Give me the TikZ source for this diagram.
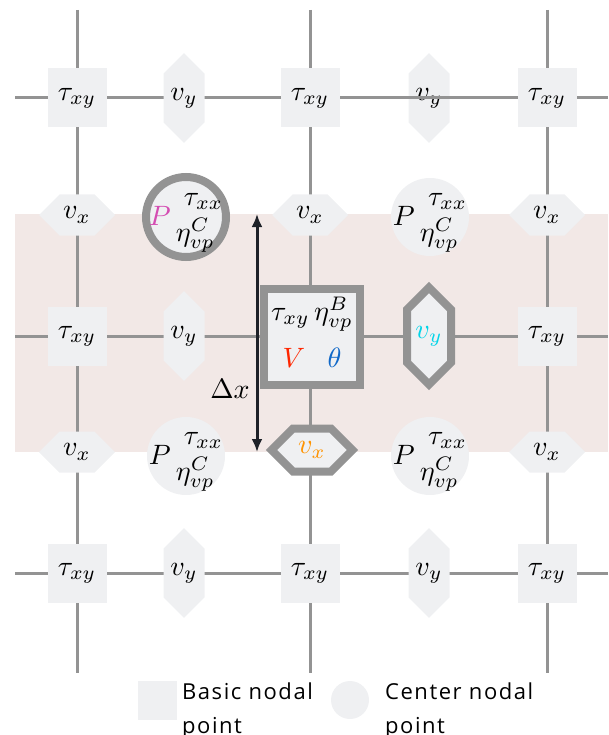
\documentclass[tikz,border=0pt]{standalone}
\usepackage{graphicx}
\usepackage{xcolor}
\usepackage{fontspec}
\newfontfamily\legendfont[LetterSpace=7]{Open Sans}
\usepackage{tikz}
\usetikzlibrary{arrows.meta}
\usetikzlibrary{positioning}
\usetikzlibrary{shapes}

\definecolor{linegray}{RGB}{147,147,147}
\definecolor{nodefill}{RGB}{239,240,242}
\definecolor{bandpink}{RGB}{242,232,230}
\definecolor{arrowdark}{RGB}{30,33,40}
\definecolor{pmag}{RGB}{212,76,178}
\definecolor{vred}{RGB}{255,38,0}
\definecolor{thblue}{RGB}{16,104,200}
\definecolor{vycyan}{RGB}{0,212,232}
\definecolor{vxorange}{RGB}{255,147,0}

\newcommand{\bigmath}[1]{\scalebox{2.8}{$#1$}}
% P with tau_xx over eta_vp^C
\newcommand{\ptaueta}[1]{\bigmath{{\color{#1}P}\hspace{1.8pt}\raisebox{0.6pt}{$\begin{array}{@{}l@{}}\hspace{2.9pt}\tau_{xx}\\[0.9pt]\eta^C_{vp}\end{array}$}}}

\tikzset{
	gridline/.style={draw=linegray, line width=3pt},
	basic/.style={rectangle, fill=nodefill, minimum size=59pt, inner sep=0pt},
	cnode/.style={circle, fill=nodefill, minimum size=78pt, inner sep=0pt},
	vyhex/.style={signal, signal to=north and south, signal pointer angle=90, fill=nodefill, minimum width=41pt, minimum height=76pt, inner sep=0pt},
	vxhex/.style={signal, signal to=east and west, signal pointer angle=90, fill=nodefill, minimum width=76pt, minimum height=41pt, inner sep=0pt},
	hilite/.style={draw=linegray, line width=8pt},
	dxarrow/.style={{Latex[length=13pt,width=11pt]}-{Latex[length=13pt,width=11pt]}, draw=arrowdark, line width=3pt},
	legendtext/.style={font=\legendfont\fontsize{22}{34}\selectfont, align=left, inner sep=0pt, anchor=north west}
}

\begin{document}
\begin{tikzpicture}[x=1pt,y=-1pt]
			\useasboundingbox (0,0) rectangle (608,735);
			% band of the middle cell row
			\fill[bandpink] (15,214) rectangle (608,452);
			% grid
			\coordinate (v1a) at (77,10);  \coordinate (v1b) at (77,673);
			\coordinate (v2a) at (310,10); \coordinate (v2b) at (310,673);
			\coordinate (v3a) at (547,10); \coordinate (v3b) at (547,673);
			\coordinate (h1a) at (15,98);  \coordinate (h1b) at (608,98);
			\coordinate (h2a) at (15,336); \coordinate (h2b) at (608,336);
			\coordinate (h3a) at (15,573); \coordinate (h3b) at (608,573);
			\draw[gridline] (v1a) -- (v1b);
			\draw[gridline] (v2a) -- (v2b);
			\draw[gridline] (v3a) -- (v3b);
			\draw[gridline] (h1a) -- (h1b);
			\draw[gridline] (h2a) -- (h2b);
			\draw[gridline] (h3a) -- (h3b);
			% row 1
			\node[basic] (b11) at (77,98) {\bigmath{\tau_{xy}}};
			\node[vyhex] (vy11) at (184,98) {\bigmath{v_y}};
			\node[basic] (b12) at (310,98) {\bigmath{\tau_{xy}}};
			\node[vyhex] (vy12) at (429,98) {\bigmath{v_y}};
			\node[basic] (b13) at (547,98) {\bigmath{\tau_{xy}}};
			% cells 1
			\node[vxhex] (vx11) at (77,215) {\bigmath{v_x}};
			\node[cnode, hilite, minimum size=80pt, label=center:{\ptaueta{pmag}}] (c11) at (186,217) {};
			\node[vxhex] (vx12) at (310,215) {\bigmath{v_x}};
			\node[cnode, label=center:{\ptaueta{black}}] (c12) at (430,217) {};
			\node[vxhex] (vx13) at (547,215) {\bigmath{v_x}};
			% row 2
			\node[basic] (b21) at (77,336) {\bigmath{\tau_{xy}}};
			\node[vyhex] (vy21) at (184,336) {\bigmath{v_y}};
			\node[basic, hilite, minimum size=96pt] (b22) at (312,337) {\bigmath{\begin{array}{@{}c@{}}\tau_{xy}\,\eta^B_{vp}\\[4.8pt]{\color{vred}V}\hspace{8pt}{\color{thblue}\theta}\end{array}}};
			\node[vyhex, hilite, minimum width=44pt, minimum height=80pt] (vy22) at (429,336) {\bigmath{\color{vycyan}v_y}};
			\node[basic] (b23) at (547,336) {\bigmath{\tau_{xy}}};
			% cells 2
			\node[vxhex] (vx21) at (77,452) {\bigmath{v_x}};
			\node[cnode, label=center:{\ptaueta{black}}] (c21) at (186,456) {};
			\node[vxhex, hilite, minimum width=81pt, minimum height=43pt] (vx22) at (312,450) {\bigmath{\color{vxorange}v_x}};
			\node[cnode, label=center:{\ptaueta{black}}] (c22) at (430,456) {};
			\node[vxhex] (vx23) at (547,452) {\bigmath{v_x}};
			% row 3
			\node[basic] (b31) at (77,573) {\bigmath{\tau_{xy}}};
			\node[vyhex] (vy31) at (184,573) {\bigmath{v_y}};
			\node[basic] (b32) at (310,573) {\bigmath{\tau_{xy}}};
			\node[vyhex] (vy32) at (429,573) {\bigmath{v_y}};
			\node[basic] (b33) at (547,573) {\bigmath{\tau_{xy}}};
			\draw[gridline] (vy12.west) -- (vy12.east);
			% cell size
			\coordinate (dxtop) at (257,214);
			\coordinate (dxbot) at (257,452);
			\draw[dxarrow] (dxtop) -- (dxbot);
			\node (dxlabel) at (230,389) {\bigmath{\Delta x}};
			% legend
			\node[basic, minimum size=39pt] (lgbasic) at (157.5,700.5) {};
			\node[legendtext] (lgbasictext) at (182,683) {Basic nodal\\point};
			\node[cnode, minimum size=38pt] (lgcenter) at (350,700) {};
			\node[legendtext] (lgcentertext) at (385,683) {Center nodal\\point};
\end{tikzpicture}
\end{document}
